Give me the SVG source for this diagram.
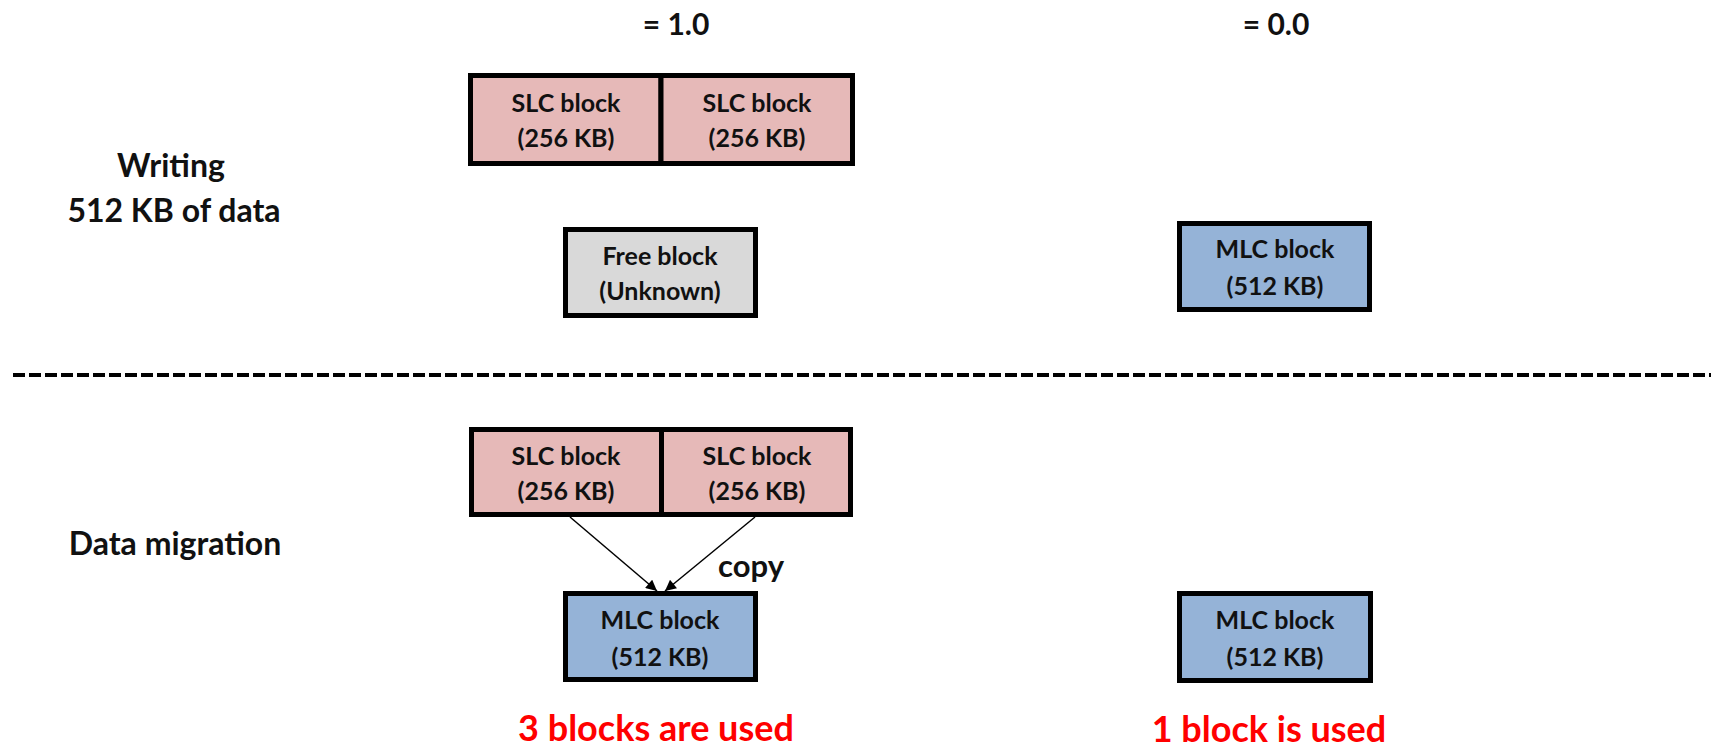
<svg xmlns="http://www.w3.org/2000/svg" width="1711" height="747" viewBox="0 0 1711 747">
  <defs>
    <marker id="arrowhead" viewBox="0 0 10 10" refX="10" refY="5" markerWidth="12" markerHeight="11" markerUnits="userSpaceOnUse" orient="auto">
      <path d="M0,0 L10,5 L0,10 z" fill="#000"/>
    </marker>
    <style>
      text { font-family: Lato, "Open Sans", "Liberation Sans", sans-serif; font-weight: 700; fill: #111; text-anchor: middle; }
      .block { stroke: #000; stroke-width: 5; }
      .slc { fill: #E6B9B8; }
      .mlc { fill: #95B3D7; }
      .free { fill: #D9D9D9; }
      .inner { font-size: 25px; }
      .title { font-size: 30px; }
      .side { font-size: 32px; }
      .note { font-size: 36px; fill: #FF0000; }
      .copy { font-size: 31px; }
      .link { stroke: #000; stroke-width: 1.5; fill: none; marker-end: url(#arrowhead); }
    </style>
  </defs>
  <rect width="1711" height="747" fill="#FFFFFF"/>

  <!-- column headers -->
  <text class="title" x="676" y="35">= 1.0</text>
  <text class="title" x="1276" y="35">= 0.0</text>

  <!-- row labels -->
  <text class="side" x="171" y="177">Writing</text>
  <text class="side" x="174" y="222">512 KB of data</text>
  <text class="side" x="175" y="555">Data migration</text>

  <!-- separator between the two phases -->
  <line x1="13" y1="375" x2="1711" y2="375" stroke="#000" stroke-width="4" stroke-dasharray="12 4"/>

  <!-- writing phase -->
  <g id="w-slc-1">
    <rect class="block slc" x="470.5" y="75.5" width="190.5" height="88"/>
    <text class="inner" x="566" y="112">SLC block</text>
    <text class="inner" x="566" y="147">(256 KB)</text>
  </g>
  <g id="w-slc-2">
    <rect class="block slc" x="661" y="75.5" width="191.5" height="88"/>
    <text class="inner" x="757" y="112">SLC block</text>
    <text class="inner" x="757" y="147">(256 KB)</text>
  </g>
  <g id="w-free">
    <rect class="block free" x="565.5" y="229.5" width="190" height="86"/>
    <text class="inner" x="660" y="265">Free block</text>
    <text class="inner" x="660" y="300">(Unknown)</text>
  </g>
  <g id="w-mlc">
    <rect class="block mlc" x="1179.5" y="223.5" width="190" height="86"/>
    <text class="inner" x="1275" y="258">MLC block</text>
    <text class="inner" x="1275" y="295">(512 KB)</text>
  </g>

  <!-- migration phase -->
  <g id="m-slc-1">
    <rect class="block slc" x="471.5" y="429.5" width="190" height="85"/>
    <text class="inner" x="566" y="465">SLC block</text>
    <text class="inner" x="566" y="500">(256 KB)</text>
  </g>
  <g id="m-slc-2">
    <rect class="block slc" x="661.5" y="429.5" width="189" height="85"/>
    <text class="inner" x="757" y="465">SLC block</text>
    <text class="inner" x="757" y="500">(256 KB)</text>
  </g>
  <g id="m-mlc">
    <rect class="block mlc" x="565.5" y="593.5" width="190" height="86"/>
    <text class="inner" x="660" y="629">MLC block</text>
    <text class="inner" x="660" y="666">(512 KB)</text>
  </g>
  <g id="m-mlc-right">
    <rect class="block mlc" x="1179.5" y="593.5" width="191" height="87"/>
    <text class="inner" x="1275" y="629">MLC block</text>
    <text class="inner" x="1275" y="666">(512 KB)</text>
  </g>

  <!-- copy connectors -->
  <g id="connectors">
    <line class="link" x1="570" y1="517" x2="657" y2="591"/>
    <line class="link" x1="755" y1="517" x2="665" y2="591"/>
    <text class="copy" x="751" y="577">copy</text>
  </g>

  <!-- block counts -->
  <text class="note" x="656" y="741">3 blocks are used</text>
  <text class="note" x="1269" y="742">1 block is used</text>
</svg>
